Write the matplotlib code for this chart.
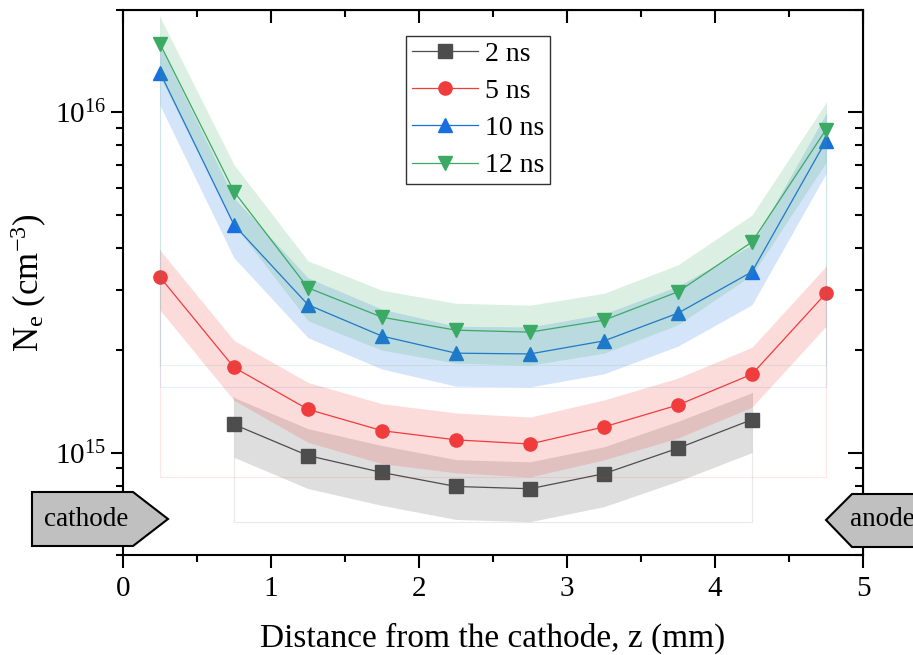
import numpy as np
import matplotlib
matplotlib.use("Agg")
import matplotlib.pyplot as plt
from matplotlib.patches import Polygon
from matplotlib.ticker import LogLocator, MultipleLocator, NullFormatter

plt.rcParams['font.family'] = ['Liberation Serif', 'DejaVu Serif']
plt.rcParams['mathtext.fontset'] = 'custom'
plt.rcParams['mathtext.rm'] = 'Liberation Serif'
plt.rcParams['mathtext.it'] = 'Liberation Serif:italic'

# data
z_full = [0.25, 0.75, 1.25, 1.75, 2.25, 2.75, 3.25, 3.75, 4.25, 4.75]
z_2ns = [0.75, 1.25, 1.75, 2.25, 2.75, 3.25, 3.75, 4.25]
ne_2ns = [1.21e15, 9.8e14, 8.74e14, 7.95e14, 7.83e14, 8.67e14, 1.03e15, 1.25e15]
ne_5ns = [3.28e15, 1.78e15, 1.34e15, 1.16e15, 1.09e15, 1.06e15, 1.19e15, 1.38e15, 1.70e15, 2.94e15]
ne_10ns = [1.31e16, 4.67e15, 2.72e15, 2.20e15, 1.96e15, 1.95e15, 2.13e15, 2.57e15, 3.40e15, 8.26e15]
ne_12ns = [1.59e16, 5.85e15, 3.05e15, 2.50e15, 2.29e15, 2.26e15, 2.45e15, 2.97e15, 4.16e15, 8.90e15]
labels = ['2 ns', '5 ns', '10 ns', '12 ns']
# relative uncertainty of the shaded bands
rel_err = [0.2, 0.2, 0.2, 0.2]

colors = ['#4d4d4d', '#f03c3c', '#1a6fe0', '#3aaa64']
markers = ['s', 'o', '^', 'v']

fig = plt.figure(figsize=(9.13, 6.55), dpi=100)
ax = fig.add_axes([123/913, 1-555/655, 740/913, 545/655])

series = [(z_2ns, ne_2ns), (z_full, ne_5ns), (z_full, ne_10ns), (z_full, ne_12ns)]
for i, (z, ne) in enumerate(series):
    z = np.array(z)
    ne = np.array(ne)
    lo = ne*(1-rel_err[i])
    hi = ne*(1+rel_err[i])
    ax.fill_between(z, lo, hi, color=colors[i], alpha=0.18, lw=0, zorder=2*i+1)
    # faint outline of the band's bounding box
    ax.plot([z[0], z[0], z[-1], z[-1]], [hi[0], lo.min(), lo.min(), hi[-1]],
            color=colors[i], alpha=0.12, lw=0.8, zorder=2*i+1)
    ax.plot(z, ne, color=colors[i], lw=0.9, marker=markers[i], ms=9.5,
            mec=colors[i], mfc=colors[i], label=labels[i], zorder=2*i+2)

ax.set_yscale('log')
ax.set_xlim(0, 5)
ax.set_ylim(5e14, 2e16)

ax.xaxis.set_major_locator(MultipleLocator(1))
ax.xaxis.set_minor_locator(MultipleLocator(0.5))
ax.yaxis.set_major_locator(LogLocator(base=10))
ax.yaxis.set_minor_locator(LogLocator(base=10, subs=np.arange(2, 10)))
ax.yaxis.set_minor_formatter(NullFormatter())

ax.tick_params(which='major', direction='out', length=9, width=1.5, labelsize=21)
ax.tick_params(which='minor', direction='out', length=5, width=1.5)
ax.tick_params(axis='x', pad=6)
for s in ax.spines.values():
    s.set_linewidth(1.5)

# top and right ticks point inwards
top = ax.secondary_xaxis('top')
top.xaxis.set_major_locator(MultipleLocator(1))
top.xaxis.set_minor_locator(MultipleLocator(0.5))
top.tick_params(which='major', direction='in', length=9, width=1.5, labeltop=False)
top.tick_params(which='minor', direction='in', length=5, width=1.5)
right = ax.secondary_yaxis('right')
right.yaxis.set_major_locator(LogLocator(base=10))
right.yaxis.set_minor_locator(LogLocator(base=10, subs=np.arange(2, 10)))
right.yaxis.set_minor_formatter(NullFormatter())
right.tick_params(which='major', direction='in', length=11, width=1.5, labelright=False)
right.tick_params(which='minor', direction='in', length=6, width=1.5, labelright=False)

ax.set_xlabel('Distance from the cathode, z (mm)', fontsize=24, labelpad=15)
ax.set_ylabel(r'N$_\mathrm{e}$ (cm$^{-3}$)', fontsize=25, labelpad=4)

leg = ax.legend(loc='upper left', bbox_to_anchor=(406/913, 1-36/655),
                bbox_transform=fig.transFigure, fontsize=20, frameon=True,
                fancybox=False, edgecolor='black', handlelength=2.4,
                handletextpad=0.25, labelspacing=0.42, borderpad=0.2,
                borderaxespad=0)
leg.get_frame().set_linewidth(1.0)


def px(x, y):
    return (x/913, 1-y/655)


cathode = Polygon([px(32, 492), px(133, 492), px(168, 519), px(133, 546), px(32, 546)],
                  closed=True, transform=fig.transFigure, facecolor='#c0c0c0',
                  edgecolor='black', lw=1.5, zorder=20)
fig.add_artist(cathode)
fig.text(*px(86, 519), 'cathode', fontsize=19.5, ha='center', va='center', zorder=21)

anode = Polygon([px(826, 520), px(852, 494), px(940, 494), px(940, 547), px(852, 547)],
                closed=True, transform=fig.transFigure, facecolor='#c0c0c0',
                edgecolor='black', lw=1.5, zorder=20)
fig.add_artist(anode)
fig.text(*px(850, 520), 'anode', fontsize=19.5, ha='left', va='center', zorder=21)

fig.savefig('out.png', dpi=100)
